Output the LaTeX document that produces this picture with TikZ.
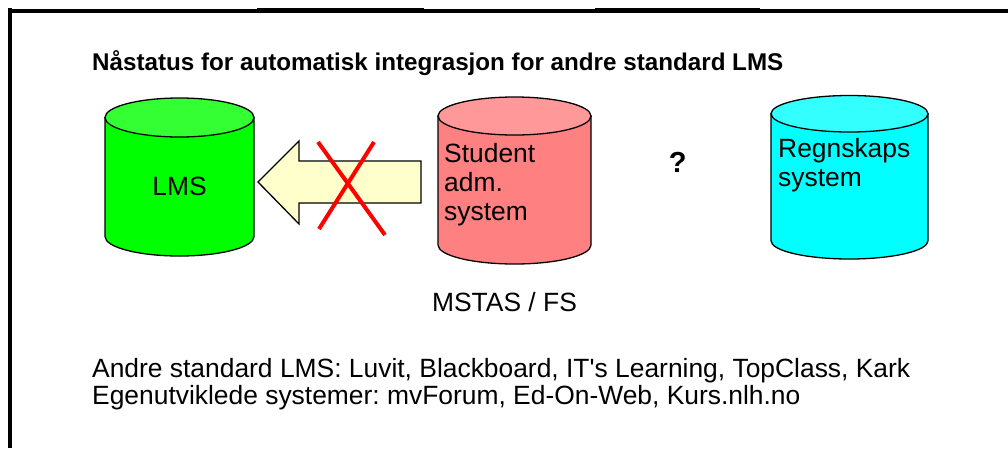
\documentclass[tikz,border=0pt]{standalone}
\usepackage{fontspec}
\setmainfont{Liberation Sans}
\frenchspacing
\definecolor{lmstop}{HTML}{33FF33}
\definecolor{lmsbody}{HTML}{00FF00}
\definecolor{stutop}{HTML}{FF9999}
\definecolor{stubody}{HTML}{FF8080}
\definecolor{regtop}{HTML}{33FFFF}
\definecolor{regbody}{HTML}{00FFFF}
\definecolor{arrowfill}{HTML}{FFFFCC}
\begin{document}
\begin{tikzpicture}[x=1pt,y=1pt,
  txt/.style={inner sep=0pt, font=\fontsize{26.4}{29}\selectfont},
  ttl/.style={inner sep=0pt, font=\fontsize{24.2}{28}\selectfont\bfseries},
  cyl/.style={draw=black, line width=1.3pt},
  cross/.style={draw=red, line width=4pt}]
\useasboundingbox (0,0) rectangle (1008,-448);
\fill[white] (0,0) rectangle (1008,-448);
% frame
\fill[black] (8,-8) rectangle (12,-448);
\fill[black] (8,-9) rectangle (1008,-13);
\fill[black] (257,-8) rectangle (424,-9);
\fill[black] (595,-8) rectangle (760,-9);
% title
\node[ttl, anchor=base west] (title) at (92,-70.7) {Nåstatus for automatisk integrasjon for andre standard LMS};
% LMS cylinder
\draw[cyl, fill=lmsbody] (105,-117.5) -- (105,-236.5) arc[start angle=180, end angle=360, x radius=74.5pt, y radius=19.5pt] -- (254,-117.5) -- cycle;
\draw[cyl, fill=lmstop] (179.5,-117.5) ellipse [x radius=74.5pt, y radius=19.5pt];
\node[txt, anchor=base] (lms) at (179.5,-195) {LMS};
% Student cylinder
\draw[cyl, fill=stubody] (438,-116) -- (438,-245) arc[start angle=180, end angle=360, x radius=76.5pt, y radius=19pt] -- (591,-116) -- cycle;
\draw[cyl, fill=stutop] (514.5,-116) ellipse [x radius=76.5pt, y radius=19pt];
\node[txt, anchor=base west] (stu1) at (444,-162.5) {Student};
\node[txt, anchor=base west] (stu2) at (444,-191.5) {adm.};
\node[txt, anchor=base west] (stu3) at (444,-220.5) {system};
% Regnskaps cylinder
\draw[cyl, fill=regbody] (771,-113.75) -- (771,-240.75) arc[start angle=180, end angle=360, x radius=78.5pt, y radius=18.25pt] -- (928,-113.75) -- cycle;
\draw[cyl, fill=regtop] (849.5,-113.75) ellipse [x radius=78.5pt, y radius=18.25pt];
\node[txt, anchor=base west] (reg1) at (778,-157.5) {Regnskaps};
\node[txt, anchor=base west] (reg2) at (778,-186) {system};
% arrow
\draw[line width=1.3pt, fill=arrowfill] (258,-182) -- (299,-141) -- (299,-161) -- (421,-161) -- (421,-203) -- (299,-203) -- (299,-224) -- cycle;
% red cross
\draw[cross] (318,-142) -- (385,-235);
\draw[cross] (374,-142) -- (319,-229);
% question mark
\node[inner sep=0pt, anchor=base, font=\fontsize{29}{32}\selectfont\bfseries] (q) at (677.7,-172) {?};
% labels
\node[txt, anchor=base] (mstas) at (504.5,-311) {MSTAS / FS};
\node[txt, anchor=base west] (l1) at (92,-377.3) {Andre standard LMS: Luvit, Blackboard, IT\textquotesingle s Learning, TopClass, Kark};
\node[txt, anchor=base west] (l2) at (92,-404) {Egenutviklede systemer: mvForum, Ed-On-Web, Kurs.nlh.no};
\end{tikzpicture}
\end{document}
